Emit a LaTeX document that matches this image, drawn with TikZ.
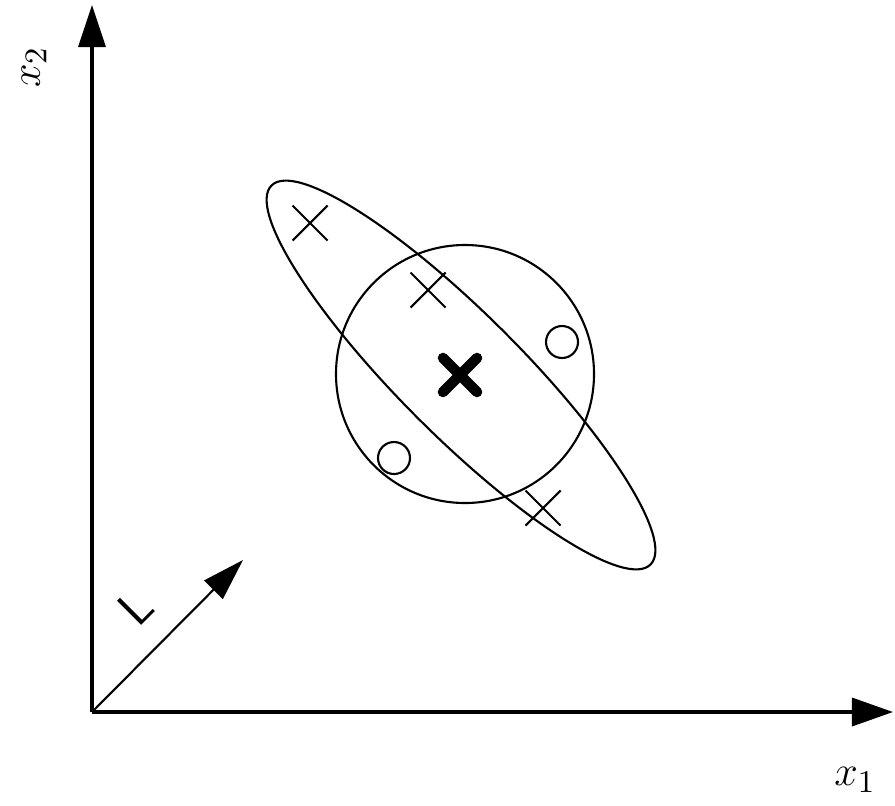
\documentclass[tikz,border=0pt]{standalone}
\usetikzlibrary{arrows.meta}
\begin{document}
\begin{tikzpicture}[x=0.01cm,y=0.01cm, thick]
    \useasboundingbox (0,0) rectangle (895,805);
    % origine et bouts des axes
    \coordinate (O) at (92,93);
    \coordinate (X) at (893,93);
    \coordinate (Y) at (92,800);
    \coordinate (L) at (243,245);
    % axes
    \draw[line width=1pt, -{Triangle[length=0.41cm,width=0.28cm]}] (O) -- (X);
    \draw[line width=1pt, -{Triangle[length=0.42cm,width=0.27cm]}] (O) -- (Y);
    \node[rotate=90] (lx2) at (34,738) {\fontsize{13}{15}\selectfont $x_2$};
    \node (lx1) at (855,25) {\fontsize{13}{15}\selectfont $x_1$};
    % direction L
    \draw[semithick, -{Triangle[length=0.42cm,width=0.26cm]}] (O) -- (L);
    \node[rotate=45] (lL) at (136,198) {\fontsize{14}{16}\selectfont\sffamily L};
    % cercle
    \draw[semithick] (465,431) circle (129);
    % ellipse
    \draw[semithick, rotate around={-45:(461,430)}] (461,430) ellipse [x radius=268, y radius=61];
    % croix fines
    \draw[semithick] (292.5,564.5) -- (327.5,599.5);
    \draw[semithick] (292.5,599.5) -- (327.5,564.5);
    \draw[semithick] (410.5,497.5) -- (445.5,532.5);
    \draw[semithick] (410.5,532.5) -- (445.5,497.5);
    \draw[semithick] (525.5,279.5) -- (560.5,314.5);
    \draw[semithick] (525.5,314.5) -- (560.5,279.5);
    % petits cercles
    \draw[semithick] (562,463) circle (16);
    \draw[semithick] (394,347) circle (16);
    % croix epaisse (moyenne)
    \draw[line width=3pt, line cap=round] (443,413) -- (477,447);
    \draw[line width=3pt, line cap=round] (443,447) -- (477,413);
\end{tikzpicture}
\end{document}
